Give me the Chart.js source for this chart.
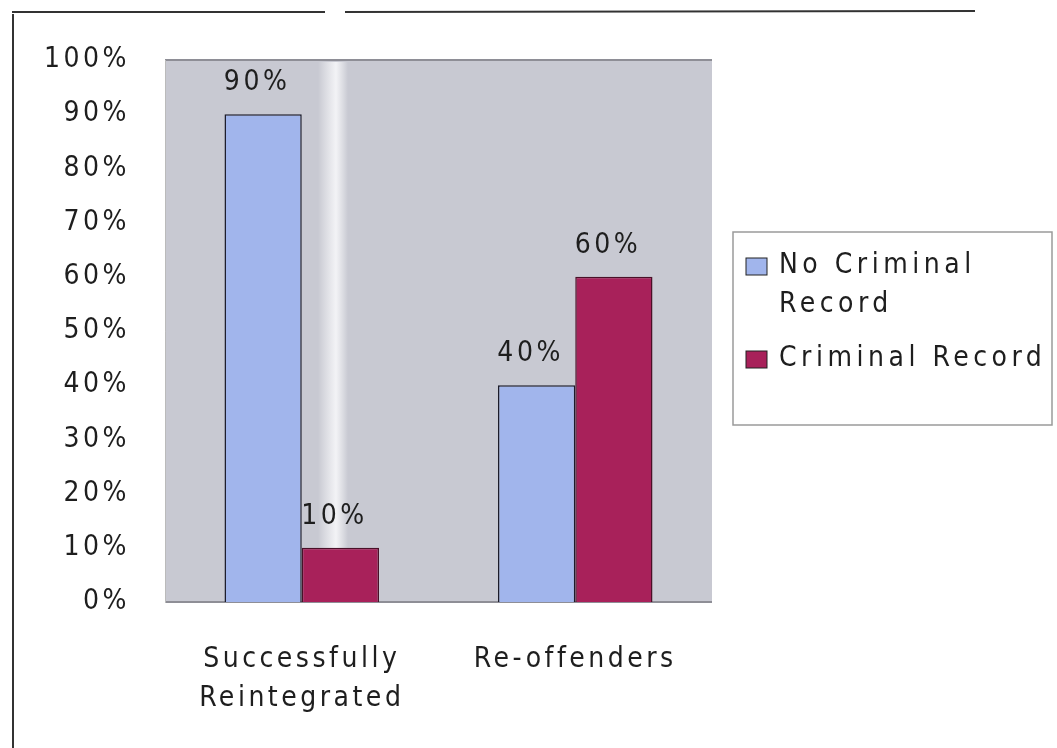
<!DOCTYPE html>
<html>
<head>
<meta charset="utf-8">
<script src="https://cdn.jsdelivr.net/npm/chart.js@4.4.1/dist/chart.umd.min.js"></script>
<style>
  html, body { margin: 0; padding: 0; background: #fff; }
  #wrap { width: 1057px; height: 748px; position: relative; }
</style>
</head>
<body>
<div id="wrap"><canvas id="recordChart"></canvas></div>
<script>
  "use strict";

  const categories = [["Successfully", "Reintegrated"], "Re-offenders"];
  const noRecord = [90, 40];
  const withRecord = [10, 60];
  const seriesNames = [["No Criminal", "Record"], ["Criminal Record"]];
  const yTicks = [0, 10, 20, 30, 40, 50, 60, 70, 80, 90, 100];

  const FONT = "'Liberation Sans Narrow', 'DejaVu Sans Condensed', 'Liberation Sans', Arial, sans-serif";
  const SPACING = "3.5px";
  const BLUE = "#a1b5ec";
  const MAROON = "#a8215a";

  /**
   * Wide letter spacing on every text drawn on the canvas
   */
  const spacing = {
    id: "spacing",
    beforeLayout(chart) { chart.ctx.letterSpacing = SPACING; },
    beforeDraw(chart) { chart.ctx.letterSpacing = SPACING; },
  };

  /**
   * Gray plot area, frame lines and the light streak
   */
  const backdrop = {
    id: "backdrop",
    beforeDraw(chart) {
      const { ctx, chartArea: a } = chart;
      ctx.save();
      ctx.fillStyle = "#c8c9d2";
      ctx.fillRect(a.left, a.top, a.right - a.left, a.bottom - a.top);
      const g = ctx.createLinearGradient(318, 0, 348, 0);
      g.addColorStop(0, "rgba(255,255,255,0)");
      g.addColorStop(0.6, "rgba(250,250,252,0.85)");
      g.addColorStop(1, "rgba(255,255,255,0)");
      ctx.fillStyle = g;
      ctx.fillRect(318, a.top + 2, 30, a.bottom - a.top - 14);
      ctx.strokeStyle = "#8e8e96";
      ctx.lineWidth = 2;
      ctx.beginPath();
      ctx.moveTo(a.left, a.top);
      ctx.lineTo(a.right, a.top);
      ctx.moveTo(a.left, a.bottom);
      ctx.lineTo(a.right, a.bottom);
      ctx.stroke();
      // outer frame
      ctx.strokeStyle = "#333";
      ctx.lineWidth = 2;
      ctx.beginPath();
      ctx.moveTo(12, 12);
      ctx.lineTo(325, 12);
      ctx.moveTo(345, 12);
      ctx.lineTo(975, 11);
      ctx.moveTo(13, 14);
      ctx.lineTo(13, 748);
      ctx.stroke();
      ctx.restore();
    },
  };

  /**
   * Value labels above the bars and the boxed legend on the right
   */
  const annotate = {
    id: "annotate",
    afterDatasetsDraw(chart) {
      const ctx = chart.ctx;
      ctx.save();
      ctx.letterSpacing = SPACING;
      ctx.font = "28px " + FONT;
      ctx.fillStyle = "#1e1e1e";
      ctx.textAlign = "center";
      ctx.textBaseline = "alphabetic";
      chart.data.datasets.forEach((ds, i) => {
        chart.getDatasetMeta(i).data.forEach((bar, j) => {
          ctx.fillText(ds.data[j] + "%", bar.x - 6, bar.y - 24);
        });
      });

      // legend box
      ctx.fillStyle = "#fff";
      ctx.fillRect(733, 232, 319, 193);
      ctx.strokeStyle = "#9a9a9a";
      ctx.lineWidth = 1.5;
      ctx.strokeRect(733, 232, 319, 193);
      ctx.textAlign = "left";
      ctx.textBaseline = "middle";
      ctx.letterSpacing = "4.5px";
      ctx.font = "28px " + FONT;
      const rows = [266, 359];
      chart.data.datasets.forEach((ds, i) => {
        const y = rows[i];
        ctx.fillStyle = ds.backgroundColor;
        ctx.fillRect(746, y - 8, 21, 17);
        ctx.strokeStyle = "#222";
        ctx.lineWidth = 1;
        ctx.strokeRect(746, y - 8, 21, 17);
        ctx.fillStyle = "#1e1e1e";
        seriesNames[i].forEach((line, k) => {
          ctx.fillText(line, 779, y + k * 39);
        });
      });
      ctx.restore();
    },
  };

  new Chart(document.getElementById("recordChart"), {
    type: "bar",
    data: {
      labels: categories,
      datasets: [
        {
          label: "No Criminal Record",
          data: noRecord,
          backgroundColor: BLUE,
          borderColor: "#1c1c2a",
          borderWidth: 1.5,
          borderSkipped: "bottom",
        },
        {
          label: "Criminal Record",
          data: withRecord,
          backgroundColor: MAROON,
          borderColor: "#4a1028",
          borderWidth: 1.5,
          borderSkipped: "bottom",
        },
      ],
    },
    options: {
      responsive: true,
      maintainAspectRatio: false,
      animation: false,
      layout: {
        padding: { left: 0, top: 60, right: 345, bottom: 0 },
      },
      plugins: {
        legend: { display: false },
        tooltip: { enabled: false },
      },
      datasets: {
        bar: { categoryPercentage: 0.565, barPercentage: 1 },
      },
      scales: {
        x: {
          afterFit(scale) { scale.height = 146; },
          grid: { display: false, drawTicks: false },
          border: { display: false },
          ticks: {
            color: "#1e1e1e",
            font: { family: FONT, size: 28, lineHeight: 1.4 },
            padding: 38,
            maxRotation: 0,
            autoSkip: false,
          },
        },
        y: {
          min: 0,
          max: 100,
          afterFit(scale) { scale.width = 165; },
          afterBuildTicks(scale) {
            scale.ticks = yTicks.map((v) => ({ value: v }));
          },
          grid: { display: false, drawTicks: true, tickLength: 7, tickColor: "#999" },
          border: { display: true, color: "#bbb" },
          ticks: {
            color: "#1e1e1e",
            font: { family: FONT, size: 28 },
            padding: 28,
            callback: (v) => v + "%",
          },
        },
      },
    },
    plugins: [spacing, backdrop, annotate],
  });
</script>
</body>
</html>
